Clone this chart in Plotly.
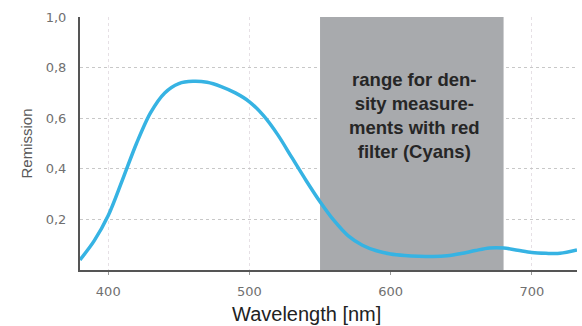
import plotly.graph_objects as go

# Data
wavelength = [380, 390, 400, 410, 420, 430, 440, 450, 460, 470, 480, 490, 500, 510, 520,
              530, 540, 550, 560, 570, 580, 590, 600, 610, 620, 630, 640, 650, 660, 670,
              680, 690, 700, 710, 720, 732]
remission = [0.04, 0.115, 0.215, 0.355, 0.50, 0.622, 0.70, 0.737, 0.746, 0.742, 0.725, 0.70,
             0.665, 0.61, 0.535, 0.445, 0.355, 0.27, 0.195, 0.135, 0.098, 0.076, 0.063,
             0.057, 0.054, 0.053, 0.056, 0.065, 0.077, 0.087, 0.087, 0.078, 0.069, 0.066,
             0.066, 0.079]

band_start, band_end = 550, 680
band_label = "range for den-<br>sity measure-<br>ments with red<br>filter (Cyans)"

x_ticks = [400, 500, 600, 700]
x_ticktext = ["400", "500", "600", "700"]
y_ticks = [0.2, 0.4, 0.6, 0.8, 1.0]
y_ticktext = ["0,2", "0,4", "0,6", "0,8", "1,0"]

SANS = "Liberation Sans, Arial, sans-serif"
TICKFONT = "DejaVu Sans, sans-serif"

fig = go.Figure()

fig.add_shape(type="rect", xref="x", yref="y", x0=band_start, x1=band_end, y0=0, y1=1.0,
              fillcolor="#a8aaad", line=dict(width=0), layer="between")

fig.add_trace(go.Scatter(x=wavelength, y=remission, mode="lines",
                         line=dict(color="#36b3e3", width=3.5, shape="spline", smoothing=0.9),
                         hoverinfo="skip", showlegend=False))

fig.add_annotation(x=(band_start + band_end) / 2 + 2, y=0.61, xref="x", yref="y",
                   text="<b>" + band_label.replace("<br>", "</b><br><b>") + "</b>",
                   showarrow=False, align="center",
                   xanchor="center", yanchor="middle",
                   font=dict(family=SANS, size=18.5, color="#262626"))

fig.add_annotation(x=(26 - 80) / 497, y=0.5, xref="paper", yref="paper", text="Remission",
                   showarrow=False, textangle=-90, xanchor="center", yanchor="middle",
                   font=dict(family=SANS, size=15, color="#5a5a5a"))

fig.add_annotation(x=(306.5 - 80) / 497, y=-(314 - 270) / 253, xref="paper", yref="paper",
                   text="Wavelength [nm]", showarrow=False,
                   xanchor="center", yanchor="middle",
                   font=dict(family=SANS, size=20, color="#222222"))

fig.update_layout(
    width=582, height=326,
    margin=dict(l=80, r=5, t=17, b=56),
    paper_bgcolor="white", plot_bgcolor="white",
    font=dict(family=SANS, color="#666666"),
    xaxis=dict(range=[380, 732], tickvals=x_ticks, ticktext=x_ticktext,
               showgrid=True, gridcolor="#e6e0e5", griddash="dot", gridwidth=1,
               showline=True, linecolor="#555555", linewidth=2,
               ticks="outside", ticklen=3, tickcolor="#999999",
               tickfont=dict(family=TICKFONT, size=13, color="#707070"), zeroline=False,
               ticklabelstandoff=5),
    yaxis=dict(range=[0, 1.0], tickvals=y_ticks, ticktext=y_ticktext,
               showgrid=True, gridcolor="#c8c8c8", griddash="dot", gridwidth=1,
               showline=True, linecolor="#555555", linewidth=2,
               ticks="", tickfont=dict(family=TICKFONT, size=13, color="#707070"),
               zeroline=False, ticklabelstandoff=9),
)

fig.write_html("out.html")
